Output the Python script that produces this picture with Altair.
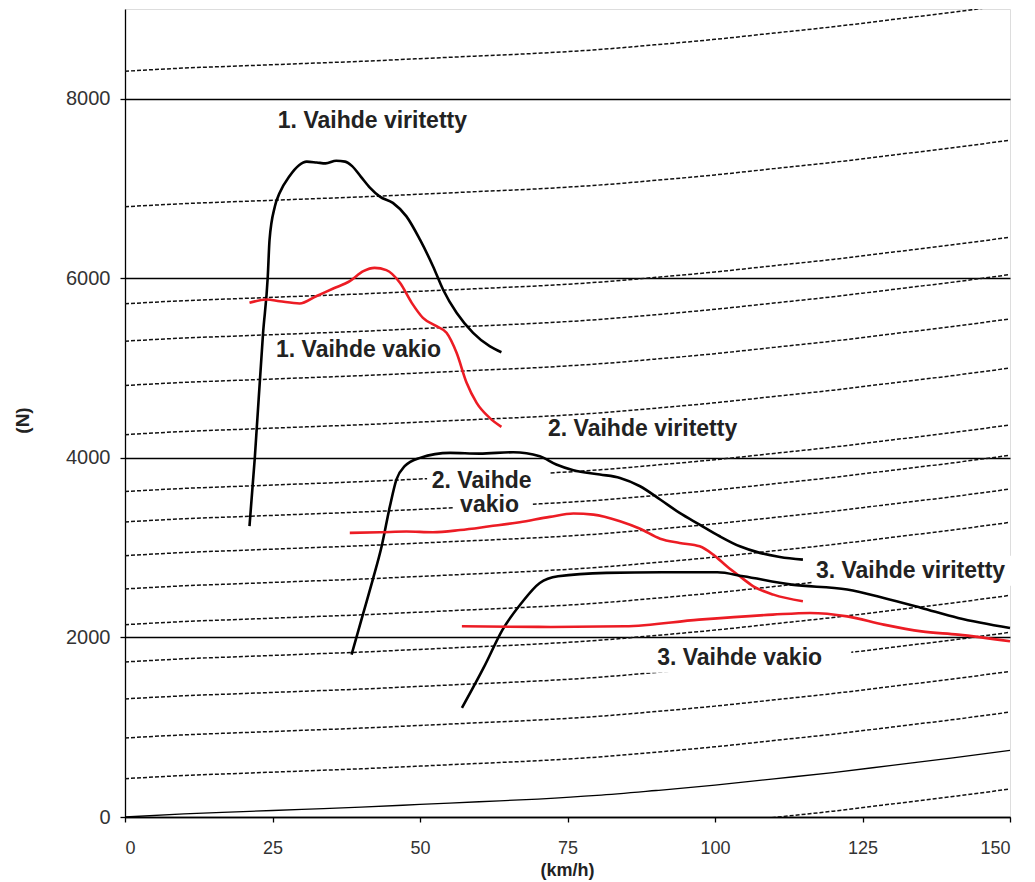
import altair as alt
import pandas as pd

# ---- data ----
X_TICKS = [0, 25, 50, 75, 100, 125, 150]
Y_TICKS = [0, 2000, 4000, 6000, 8000]

# road load (solid thin line), km/h -> N
SPEED = [0, 10, 20, 30, 40, 50, 60, 70, 80, 90, 100, 110, 120, 130, 140, 150]
ROAD_LOAD = [0, 35, 60, 85, 110, 140, 170, 200, 240, 295, 355, 425, 495, 575, 655, 742]

# extra grade force of each dashed resistance curve (N), read at 0 km/h
GRADE_FORCE = [-430, 427, 880, 1315, 1727, 2142, 2540, 2911, 3287, 3625,
               4259, 4806, 5300, 5716, 6797, 8307]

G1_VIR_X = [21.1, 22.0, 23.4, 24.2, 24.5, 25.4, 26.2, 27.9, 29.5, 30.8, 32.5, 34.0, 35.8,
            37.3, 38.5, 40.0, 41.5, 43.2, 45.4, 47.7, 50.0, 52.2, 53.9, 56.2, 59.0, 61.8, 63.8]
G1_VIR_Y = [3240, 4000, 5390, 6020, 6430, 6800, 6950, 7140, 7260, 7300, 7290, 7280, 7310,
            7300, 7250, 7130, 7010, 6910, 6840, 6690, 6430, 6135, 5876, 5616, 5393, 5244, 5177]

G1_VAK_X = [21.1, 24.0, 26.2, 29.6, 32.4, 35.3, 38.1, 40.4, 42.3, 44.3, 46.6, 48.6, 50.5,
            52.8, 54.5, 56.2, 57.9, 59.6, 61.8, 63.8]
G1_VAK_Y = [5727, 5764, 5745, 5720, 5801, 5887, 5968, 6080, 6117, 6091, 5950, 5727, 5560,
            5467, 5393, 5170, 4836, 4613, 4446, 4346]

G2_VIR_X = [38.4, 40.4, 42.0, 43.5, 44.9, 46.0, 47.4, 50.0, 55.1, 60.1, 65.8, 70.3, 73.1,
            76.0, 80.5, 83.9, 87.3, 90.7, 94.0, 97.4, 100.8, 104.2, 107.6, 111.0, 114.9]
G2_VIR_Y = [1809, 2273, 2644, 3015, 3461, 3758, 3907, 4000, 4056, 4048, 4063, 4018, 3926,
            3862, 3815, 3777, 3684, 3536, 3387, 3257, 3127, 3015, 2942, 2897, 2867]

G2_VAK_X = [38.1, 43.2, 47.7, 52.2, 56.8, 61.8, 66.9, 72.0, 76.0, 79.4, 83.9, 87.3, 90.7,
            94.0, 97.4, 99.7, 102.0, 104.2, 106.5, 109.9, 114.9]
G2_VAK_Y = [3165, 3171, 3180, 3172, 3196, 3238, 3283, 3343, 3380, 3368, 3294, 3210, 3100,
            3053, 3015, 2923, 2793, 2681, 2570, 2477, 2403]

G3_VIR_X = [57.1, 60.9, 64.0, 67.2, 70.3, 73.4, 81.6, 91.0, 100.4, 104.8, 113.0, 122.4,
            128.6, 135.0, 141.2, 150.0]
G3_VIR_Y = [1215, 1678, 2087, 2384, 2607, 2681, 2719, 2726, 2726, 2681, 2588, 2533,
            2440, 2329, 2217, 2106]

G3_VAK_X = [57.1, 72.2, 84.7, 97.3, 109.8, 116.1, 122.4, 128.6, 135.0, 141.2, 150.0]
G3_VAK_Y = [2124, 2117, 2124, 2198, 2254, 2273, 2235, 2143, 2068, 2031, 1957]

LABEL_TEXT = ["1. Vaihde viritetty", "1. Vaihde vakio", "2. Vaihde viritetty",
              "2. Vaihde", "vakio", "3. Vaihde viritetty", "3. Vaihde vakio"]
LABEL_X = [25.9, 25.6, 71.7, 52.0, 56.8, 117.1, 90.2]
LABEL_Y = [7747, 5199, 4318, 3740, 3474, 2744, 1775]

# white label boxes (text-box backgrounds that hide the dashed lines)
BOX_X = [51.2, 55.6, 116.6, 88.1]
BOX_X2 = [72.0, 69.1, 151.0, 123.1]
BOX_Y = [3569, 3346, 2577, 1608]
BOX_Y2 = [3892, 3613, 2911, 1920]

FONT = "Liberation Sans"

# ---- tables ----
dash_rows = []
for i, g in enumerate(GRADE_FORCE):
    for s, r in zip(SPEED, ROAD_LOAD):
        dash_rows.append({"x": s, "y": r + g, "id": i})
dash_df = pd.DataFrame(dash_rows)
road_df = pd.DataFrame({"x": SPEED, "y": ROAD_LOAD})

curves = []
for name, xs, ys in [("g1v", G1_VIR_X, G1_VIR_Y), ("g1k", G1_VAK_X, G1_VAK_Y),
                     ("g2v", G2_VIR_X, G2_VIR_Y), ("g2k", G2_VAK_X, G2_VAK_Y),
                     ("g3v", G3_VIR_X, G3_VIR_Y), ("g3k", G3_VAK_X, G3_VAK_Y)]:
    for a, b in zip(xs, ys):
        curves.append({"x": a, "y": b, "curve": name,
                       "kind": "vakio" if name.endswith("k") else "viritetty"})
curve_df = pd.DataFrame(curves)
label_df = pd.DataFrame({"x": LABEL_X, "y": LABEL_Y, "text": LABEL_TEXT})
box_df = pd.DataFrame({"x": BOX_X, "x2": BOX_X2, "y": BOX_Y, "y2": BOX_Y2})

x_scale = alt.Scale(domain=[0, 150], nice=False, zero=False)
y_scale = alt.Scale(domain=[0, 9000], nice=False)

x_axis = alt.Axis(values=X_TICKS, title="(km/h)", grid=False, domainColor="black",
                  domainWidth=1.3, tickColor="black", tickSize=5, tickWidth=1.3,
                  labelFont=FONT, labelFontSize=18, labelColor="#333333", labelPadding=17,
                  format="d",
                  titleFont=FONT, titleFontSize=18, titleFontWeight="bold", titleColor="#222222",
                  titleX=442, titleY=53, titleBaseline="middle", titleAlign="center")
y_axis = alt.Axis(values=Y_TICKS, title="(N)", grid=True, gridColor="black", gridWidth=1.3,
                  gridOpacity=1, domainColor="black", domainWidth=1.3, tickColor="black",
                  tickSize=5, tickWidth=1.3, labelFont=FONT, labelFontSize=20,
                  labelColor="#333333", labelPadding=10, format="d",
                  titleFont=FONT, titleFontSize=19, titleFontWeight="bold", titleColor="#222222",
                  titleAngle=270, titleX=-103, titleY=411, titleBaseline="middle",
                  titleAlign="center")

X = alt.X("x:Q", scale=x_scale, axis=x_axis)
Y = alt.Y("y:Q", scale=y_scale, axis=y_axis)

dashed = alt.Chart(dash_df).mark_line(
    color="#111111", strokeWidth=1.5, strokeDash=[4, 2], clip=True, interpolate="monotone"
).encode(x=X, y=Y, detail="id:N")

road = alt.Chart(road_df).mark_line(
    color="black", strokeWidth=1.3, interpolate="monotone"
).encode(x=X, y=Y)

boxes = alt.Chart(box_df).mark_rect(color="white").encode(
    x=X, x2="x2:Q", y=Y, y2="y2:Q")

gears = alt.Chart(curve_df).mark_line(strokeWidth=2.6, interpolate="monotone").encode(
    x=X, y=Y, detail="curve:N",
    color=alt.Color("kind:N", scale=alt.Scale(domain=["viritetty", "vakio"],
                                              range=["#000000", "#ec1c24"]), legend=None))

labels = alt.Chart(label_df).mark_text(
    align="left", baseline="middle", font=FONT, fontSize=23, fontWeight="bold",
    color="#222222"
).encode(x=X, y=Y, text="text:N")

chart = alt.layer(dashed, road, boxes, gears, labels).properties(
    width=885, height=808,
    autosize=alt.AutoSizeParams(type="none"),
    padding={"left": 117, "top": 1, "right": 12, "bottom": 63},
).configure_view(stroke="black", strokeWidth=1.3).configure(background="white")

chart.save("out.html", embed_options={"renderer": "svg", "actions": False})
